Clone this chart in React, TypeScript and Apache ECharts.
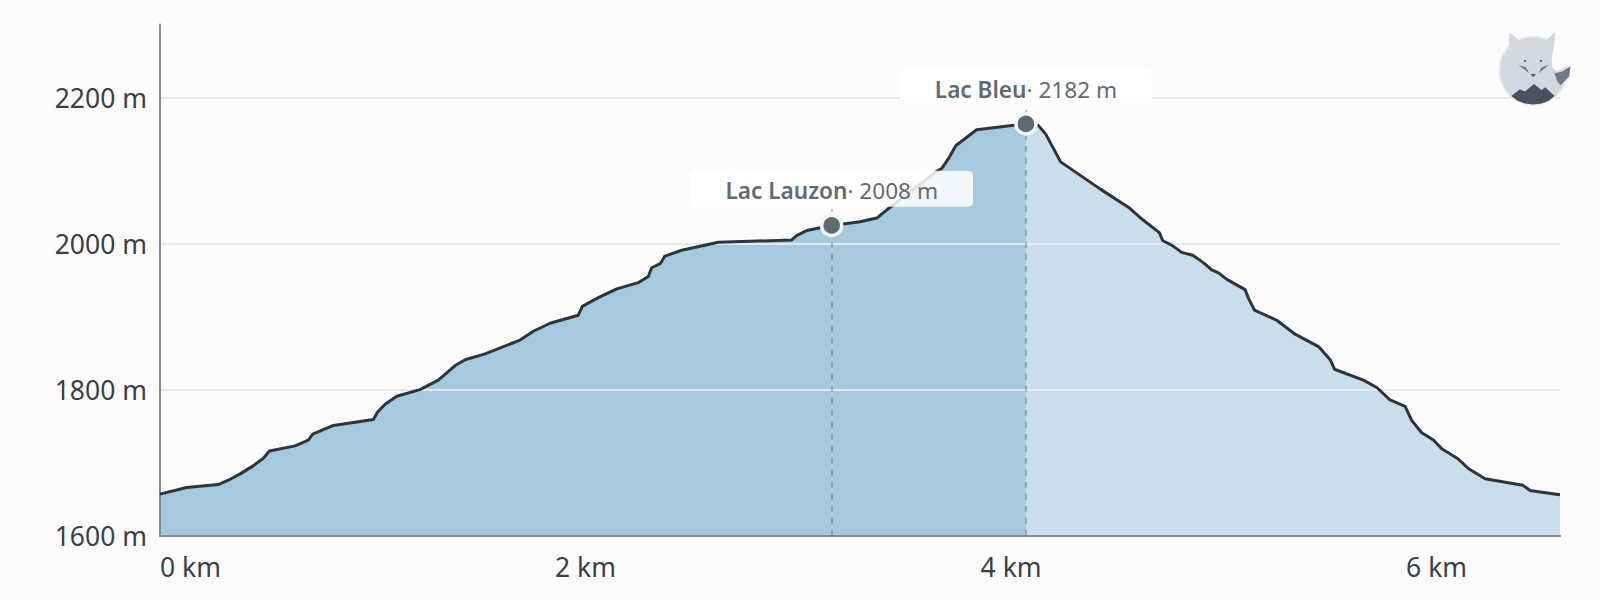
import { useEffect, useRef } from 'react'
import * as echarts from 'echarts'

const kmValues = [
  0, 0.125, 0.274, 0.321, 0.379, 0.439, 0.486, 0.514, 0.635, 0.697, 0.718, 0.815, 1.003, 1.022, 1.058, 1.113, 1.222,
  1.308, 1.387, 1.434, 1.528, 1.692, 1.755, 1.833, 1.966, 1.985, 2.06, 2.147, 2.251, 2.295, 2.311, 2.353, 2.373,
  2.452, 2.624, 2.969, 2.992, 3.04, 3.157, 3.212, 3.29, 3.369, 3.415, 3.65, 3.674, 3.705, 3.74, 3.838, 4.07, 4.128,
  4.163, 4.233, 4.418, 4.551, 4.622, 4.697, 4.713, 4.755, 4.802, 4.854, 4.904, 4.943, 4.975, 5.014, 5.1, 5.116,
  5.144, 5.249, 5.335, 5.445, 5.5, 5.52, 5.656, 5.719, 5.781, 5.852, 5.883, 5.93, 5.985, 6.024, 6.102, 6.149, 6.228,
  6.405, 6.44, 6.487, 6.58,
]
const elevations = [
  1657, 1666, 1670, 1676, 1685, 1696, 1706, 1716, 1723, 1731, 1739, 1751, 1759, 1769, 1780, 1791, 1800,
  1813, 1833, 1841, 1849, 1868, 1880, 1891, 1902, 1914, 1926, 1938, 1947, 1955, 1967, 1973, 1983,
  1991, 2002, 2005, 2011, 2018, 2025, 2027, 2030, 2035, 2046, 2099, 2103, 2116, 2134, 2156, 2164, 2162,
  2150, 2112, 2075, 2050, 2032, 2015, 2004, 1998, 1988, 1984, 1974, 1964, 1960, 1951, 1937, 1925,
  1909, 1895, 1876, 1859, 1841, 1828, 1813, 1803, 1786, 1777, 1758, 1741, 1731, 1719, 1705, 1692, 1678,
  1669, 1662, 1660, 1656,
]

const waypointNames = ['Lac Lauzon', 'Lac Bleu']
const waypointKm = [3.157, 4.07]
const waypointPlotted = [2025, 2164]
const waypointLabels = [2008, 2182]
const waypointGuideTop = [2047, 2188]

const profile = kmValues.map((km, i) => [km, elevations[i]])
const peakKm = waypointKm[1]

const FONT = '"Noto Sans", sans-serif'

// petit logo renard en haut à droite, coordonnées dans un carré 390x330
const logoZ = { z: 20 }
const logo = {
  type: 'group',
  x: 1440,
  y: 10,
  scaleX: 1 / 3,
  scaleY: 1 / 3,
  children: [
    { ...logoZ, type: 'circle', shape: { cx: 280, cy: 182, r: 102 }, style: { fill: '#d3d8e0', stroke: '#e6e9ef', lineWidth: 5 } },
    { ...logoZ, type: 'polygon', shape: { points: [[208, 66], [240, 92], [208, 130]] }, style: { fill: '#d3d8e0' } },
    { ...logoZ, type: 'polygon', shape: { points: [[345, 66], [316, 92], [345, 130]] }, style: { fill: '#d3d8e0' } },
    {
      ...logoZ,
      type: 'polygon',
      shape: { points: [[345, 90], [335, 150], [338, 172], [350, 185], [392, 162], [396, 90]] },
      style: { fill: '#fcfcfc' },
    },
    {
      ...logoZ,
      type: 'polygon',
      shape: { points: [[344, 190], [368, 185], [392, 168], [388, 200], [362, 226], [352, 214]] },
      style: { fill: '#6c7a8c' },
    },
    {
      ...logoZ,
      type: 'polygon',
      shape: {
        points: [
          [214, 258], [240, 238], [255, 245], [282, 222], [305, 240], [316, 232], [344, 258], [326, 273],
          [305, 281], [280, 284], [255, 281], [234, 273],
        ],
      },
      style: { fill: '#4a5260' },
    },
    { ...logoZ, type: 'polygon', shape: { points: [[235, 165], [258, 172], [268, 190]] }, style: { fill: '#6c7a8c' } },
    { ...logoZ, type: 'polygon', shape: { points: [[327, 165], [305, 172], [296, 190]] }, style: { fill: '#6c7a8c' } },
    { ...logoZ, type: 'polygon', shape: { points: [[272, 192], [288, 192], [280, 202]] }, style: { fill: '#4a5260' } },
    { ...logoZ, type: 'circle', shape: { cx: 255, cy: 153, r: 3 }, style: { fill: '#4a5260' } },
    { ...logoZ, type: 'circle', shape: { cx: 303, cy: 153, r: 3 }, style: { fill: '#4a5260' } },
  ],
}

export default function App() {
  const elRef = useRef<HTMLDivElement>(null)

  useEffect(() => {
    if (!elRef.current) return
    const chart = echarts.init(elRef.current, null, { renderer: 'svg' })

    chart.setOption({
      animation: false,
      backgroundColor: '#fcfcfc',
      textStyle: { fontFamily: FONT },
      grid: { left: 160, right: 40, top: 24.6, bottom: 64.3 },
      graphic: [logo],
      xAxis: {
        type: 'value',
        min: 0,
        max: 6.58,
        interval: 2,
        z: 3,
        splitLine: { show: false },
        axisTick: { show: false },
        axisLine: { onZero: false, lineStyle: { color: '#868c90', width: 2 } },
        axisLabel: {
          color: '#3a4045',
          fontSize: 26.5,
          fontFamily: FONT,
          margin: 18,
          showMaxLabel: false,
          alignMinLabel: 'left',
          formatter: (v: number) => `${v} km`,
        },
      },
      yAxis: {
        type: 'value',
        min: 1600,
        max: 2300,
        interval: 200,
        z: 3,
        axisTick: { show: false },
        axisLine: { show: true, onZero: false, lineStyle: { color: '#868c90', width: 2 } },
        splitLine: {
          show: true,
          showMinLine: false,
          showMaxLine: false,
          lineStyle: { color: '#e3e9ef', width: 2 },
        },
        axisLabel: {
          color: '#3a4045',
          fontSize: 26.5,
          fontFamily: FONT,
          margin: 13,
          padding: [0, 0, 3, 0],
          showMaxLabel: false,
          formatter: (v: number) => `${v} m`,
        },
      },
      series: [
        {
          name: 'parcouru',
          type: 'line',
          z: 2,
          data: profile.filter((p) => p[0] <= peakKm),
          showSymbol: false,
          symbol: 'none',
          lineStyle: { width: 0 },
          areaStyle: { color: '#a5c9dd', opacity: 1, origin: 'start' },
        },
        {
          name: 'restant',
          type: 'line',
          z: 2,
          data: profile.filter((p) => p[0] >= peakKm),
          showSymbol: false,
          symbol: 'none',
          lineStyle: { width: 0 },
          areaStyle: { color: '#c9deea', opacity: 1, origin: 'start' },
        },
        {
          name: 'profil',
          type: 'line',
          z: 4,
          data: profile,
          showSymbol: false,
          symbol: 'none',
          lineStyle: { color: '#2d3539', width: 3, join: 'round' },
        },
        {
          name: 'étapes',
          type: 'scatter',
          z: 6,
          symbol: 'circle',
          symbolSize: 20,
          itemStyle: { color: '#5e6b73', borderColor: '#f2f7fa', borderWidth: 3.5, opacity: 1 },
          data: waypointNames.map((name, i) => ({
            value: [waypointKm[i], waypointPlotted[i]],
            label: { formatter: `{name|${name}}{value|· ${waypointLabels[i]} m}` },
          })),
          label: {
            show: true,
            position: 'top',
            distance: 7,
            backgroundColor: 'rgba(255,255,255,0.85)',
            borderRadius: 5,
            padding: [7, 35, 3, 35],
            rich: {
              name: { fontFamily: FONT, fontSize: 22.6, fontWeight: 600, color: '#5e6b73', lineHeight: 26 },
              value: { fontFamily: FONT, fontSize: 22.6, color: '#5e6b73', lineHeight: 26 },
            },
          },
          markLine: {
            silent: true,
            symbol: 'none',
            z: 5,
            label: { show: false },
            lineStyle: { color: 'rgba(94,107,115,0.42)', width: 2, type: [6, 6] },
            data: waypointKm.map((km, i) => [
              { coord: [km, 1600] },
              { coord: [km, waypointGuideTop[i]] },
            ]),
          },
        },
      ],
    })

    return () => chart.dispose()
  }, [])

  return <div ref={elRef} style={{ position: 'absolute', left: 0, top: 0, width: 1600, height: 600 }} />
}
